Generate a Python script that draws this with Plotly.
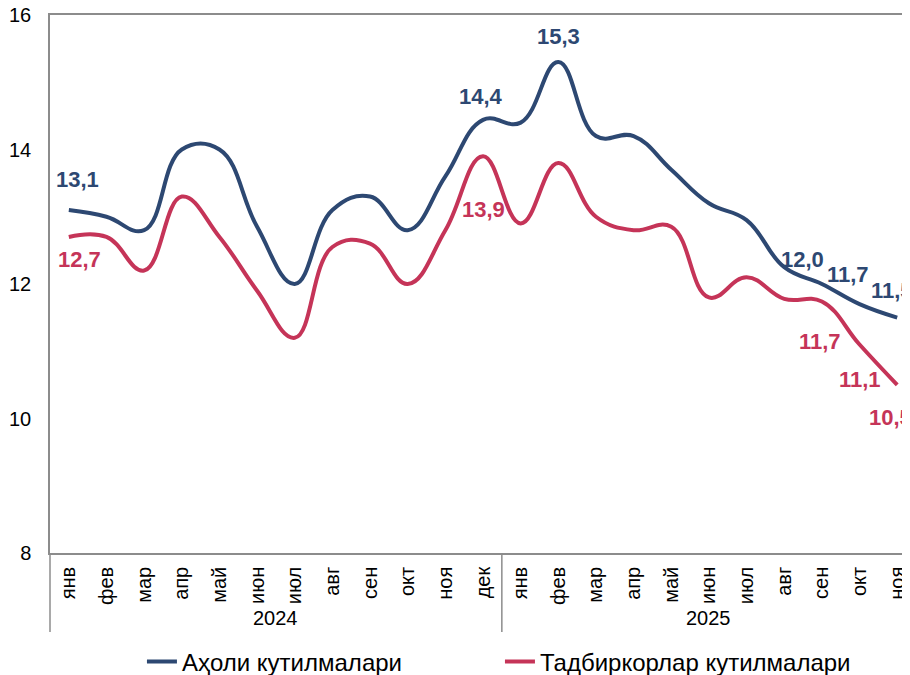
import plotly.graph_objects as go

# Oylar va yillar
months_2024 = ["янв", "фев", "мар", "апр", "май", "июн", "июл", "авг", "сен", "окт", "ноя", "дек"]
months_2025 = ["янв", "фев", "мар", "апр", "май", "июн", "июл", "авг", "сен", "окт", "ноя"]
year_labels = ["2024", "2025"]
months = months_2024 + months_2025
years = [year_labels[0]] * len(months_2024) + [year_labels[1]] * len(months_2025)

# Inflyatsion kutilmalar, %
aholi = [13.1, 13.0, 12.8, 14.0, 14.0, 12.85, 12.0, 13.1, 13.3, 12.8, 13.6, 14.44,
         14.4, 15.3, 14.2, 14.2, 13.7, 13.2, 12.95, 12.25, 12.0, 11.7, 11.5]
tadbirkor = [12.7, 12.7, 12.2, 13.3, 12.7, 11.9, 11.2, 12.55, 12.6, 12.0, 12.8, 13.9,
             12.9, 13.8, 13.0, 12.8, 12.85, 11.8, 12.1, 11.78, 11.74, 11.1, 10.5]

# Qiymati yozilgan nuqtalar (indeks, xshift, yshift)
aholi_labels = [(0, 9, 31), (11, -2, 23), (13, 0, 26), (20, -19, 25), (21, -12, 30), (22, -5, 27)]
tadbirkor_labels = [(0, 11, -23), (11, 0, -53), (20, -2, -40), (21, 0, -35), (22, -7, -33)]

blue = "#2D4872"
red = "#C53458"
grey = "#8C8C8C"
font = "Arial, Liberation Sans, sans-serif"

idx = list(range(len(months)))

fig = go.Figure()
fig.add_trace(go.Scatter(x=idx, y=aholi, mode="lines", name="Аҳоли кутилмалари",
                         line=dict(color=blue, width=4, shape="spline", smoothing=1.2)))
fig.add_trace(go.Scatter(x=idx, y=tadbirkor, mode="lines", name="Тадбиркорлар кутилмалари",
                         line=dict(color=red, width=4, shape="spline", smoothing=1.2)))


def fmt(v):
    return f"{v:.1f}".replace(".", ",")


for series, labels, color in [(aholi, aholi_labels, blue), (tadbirkor, tadbirkor_labels, red)]:
    for i, dx, dy in labels:
        fig.add_annotation(x=i, y=series[i], text=f"<b>{fmt(series[i])}</b>", showarrow=False,
                           xshift=dx, yshift=dy, font=dict(size=22, color=color, family=font))

# Yil yorliqlari va ajratgichlar
div_bottom = -0.147
fig.add_shape(type="line", xref="paper", yref="paper", x0=0, x1=0, y0=0, y1=div_bottom,
              line=dict(color=grey, width=1.5))
for y in year_labels:
    pos = [i for i in idx if years[i] == y]
    fig.add_annotation(x=(pos[0] + pos[-1]) / 2, y=-0.121, xref="x", yref="paper", text=y,
                       showarrow=False, yanchor="middle", font=dict(size=20, color="black"))
    if pos[0] > 0:
        fig.add_shape(type="line", xref="x", yref="paper", x0=pos[0] - 0.5, x1=pos[0] - 0.5,
                      y0=0, y1=div_bottom, line=dict(color=grey, width=1.5))

# sahifa body'si 8px chekinish beradi, shuning uchun o'lcham 8px ga kichraytirilgan
fig.update_layout(
    width=902, height=667,
    margin=dict(l=42, r=0, t=7, b=122),
    plot_bgcolor="white", paper_bgcolor="white",
    font=dict(family=font, size=20, color="black"),
    showlegend=True,
    legend=dict(orientation="h", xref="container", yref="container", x=0.1485, xanchor="left",
                y=0.0195, yanchor="middle", font=dict(size=24), entrywidth=313),
)
fig.update_xaxes(range=[-0.5, 22.34], showgrid=False, zeroline=False, ticks="", automargin=False,
                 tickmode="array", tickvals=idx, ticktext=months, tickangle=-90,
                 ticklabelstandoff=4, ticklabeloverflow="allow",
                 showline=True, linecolor=grey, linewidth=1.5, mirror=True,
                 tickfont=dict(size=20))
fig.update_yaxes(range=[8, 16], dtick=2, showgrid=False, zeroline=False, ticks="", automargin=False,
                 showline=True, linecolor=grey, linewidth=1.5, ticklabelstandoff=13,
                 ticklabeloverflow="allow", tickfont=dict(size=20))

fig.write_html("out.html")
